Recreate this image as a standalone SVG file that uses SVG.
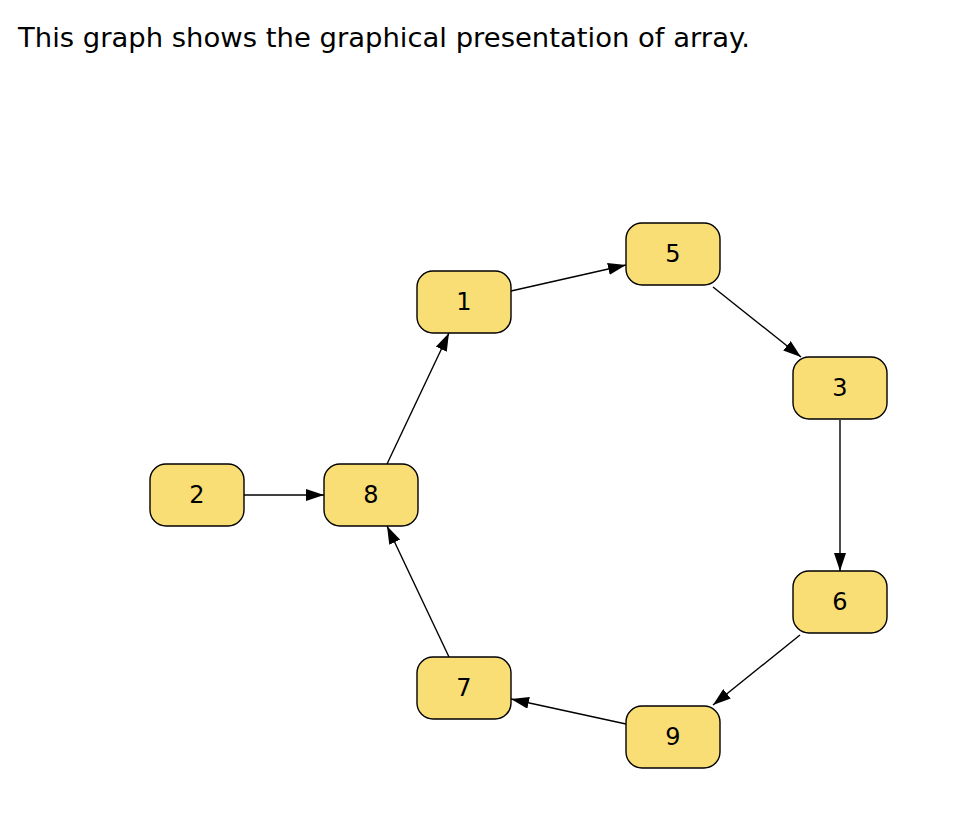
<svg xmlns="http://www.w3.org/2000/svg" width="966" height="820" viewBox="0 0 966 820">
<style>
.title{font-family:"DejaVu Sans",Verdana,sans-serif;font-size:26px;fill:#000}
.node rect{fill:#f9de75;stroke:#000;stroke-width:1.4}
.node text{font-family:"DejaVu Sans",Verdana,sans-serif;font-size:24px;fill:#000;text-anchor:middle;dominant-baseline:central}
.edges line{stroke:#000;stroke-width:1.4;marker-end:url(#ah)}
</style>
<defs>
<marker id="ah" viewBox="0 0 18 12" refX="18" refY="6" markerWidth="18" markerHeight="12" markerUnits="userSpaceOnUse" orient="auto">
<path d="M0,0 L18,6 L0,12 z" fill="#000"/>
</marker>
</defs>
<rect width="966" height="820" fill="#fff"/>
<text class="title" x="18" y="47" textLength="732" lengthAdjust="spacingAndGlyphs">This graph shows the graphical presentation of array.</text>
<g class="edges">
<line x1="244" y1="495" x2="324" y2="495"/>
<line x1="387" y1="464" x2="449" y2="333"/>
<line x1="511" y1="291" x2="626" y2="265"/>
<line x1="713" y1="287" x2="801" y2="357"/>
<line x1="840" y1="420" x2="840" y2="571"/>
<line x1="800" y1="635" x2="713" y2="705"/>
<line x1="626" y1="724" x2="511" y2="699"/>
<line x1="449" y1="657" x2="387" y2="526"/>
</g>
<g id="n2" class="node"><rect x="150" y="464" width="94" height="62" rx="16"/><text x="197" y="495">2</text></g>
<g id="n8" class="node"><rect x="324" y="464" width="94" height="62" rx="16"/><text x="371" y="495">8</text></g>
<g id="n1" class="node"><rect x="417" y="271" width="94" height="62" rx="16"/><text x="464" y="302">1</text></g>
<g id="n5" class="node"><rect x="626" y="223" width="94" height="62" rx="16"/><text x="673" y="254">5</text></g>
<g id="n3" class="node"><rect x="793" y="357" width="94" height="62" rx="16"/><text x="840" y="388">3</text></g>
<g id="n6" class="node"><rect x="793" y="571" width="94" height="62" rx="16"/><text x="840" y="602">6</text></g>
<g id="n9" class="node"><rect x="626" y="706" width="94" height="62" rx="16"/><text x="673" y="737">9</text></g>
<g id="n7" class="node"><rect x="417" y="657" width="94" height="62" rx="16"/><text x="464" y="688">7</text></g>
</svg>
